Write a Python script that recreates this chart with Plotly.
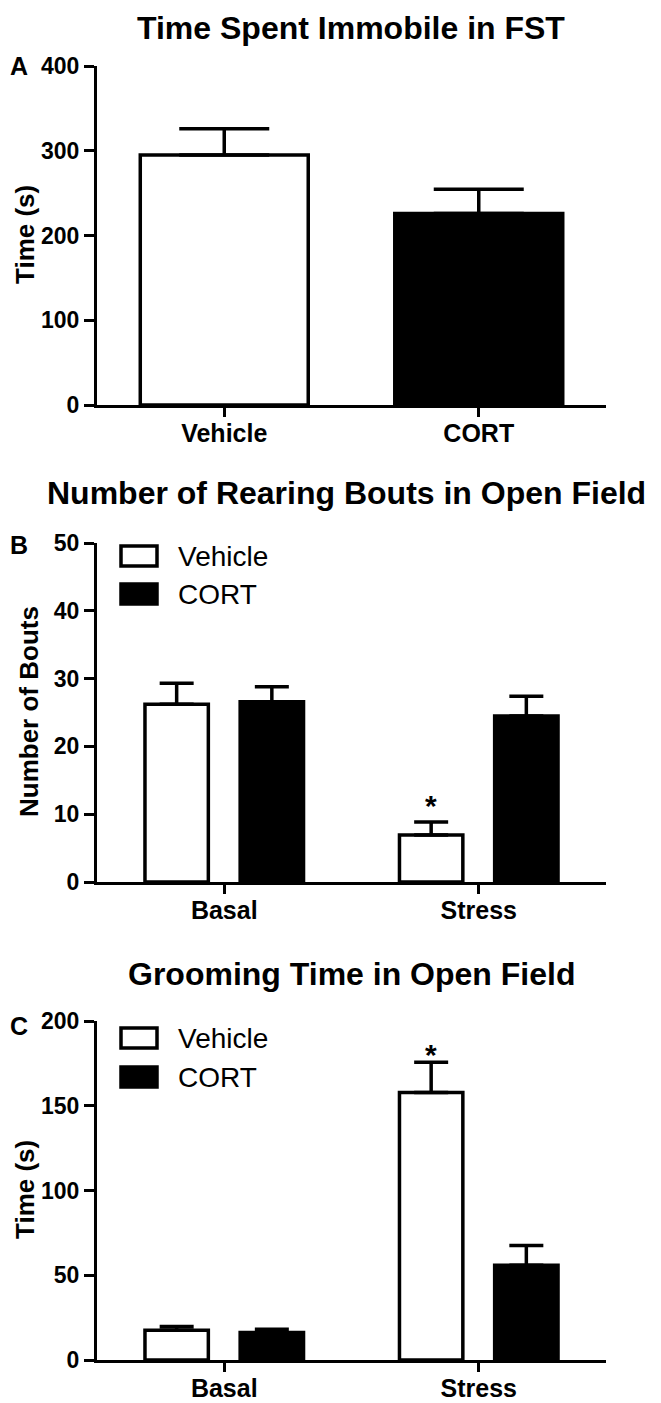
import plotly.graph_objects as go

# The html page body has an 8 px margin; the figure is sized so that
# figure + margin fills the 661x1403 window exactly.
PAGE_W, PAGE_H = 661, 1403
OFF = 8
W, H = PAGE_W - OFF, PAGE_H - OFF

# ---------------- data ----------------
# Panel A: Time spent immobile in FST
fst_groups = ["Vehicle", "CORT"]
fst_mean = [295, 226]
fst_sem = [31, 28.5]

# Panel B: Number of rearing bouts in open field
conditions = ["Basal", "Stress"]
rear_vehicle_mean = [26.2, 6.95]
rear_vehicle_sem = [3.1, 1.9]
rear_cort_mean = [26.6, 24.5]
rear_cort_sem = [2.2, 2.9]

# Panel C: Grooming time in open field
groom_vehicle_mean = [17.6, 157.8]
groom_vehicle_sem = [2.1, 17.9]
groom_cort_mean = [16.2, 55.9]
groom_cort_sem = [2.0, 11.7]

panel_titles = ["Time Spent Immobile in FST",
                "Number of Rearing Bouts in Open Field",
                "Grooming Time in Open Field"]
panel_letters = ["A", "B", "C"]
y_titles = ["Time (s)", "Number of Bouts", "Time (s)"]
yticks_a = [0, 100, 200, 300, 400]
yticks_b = [0, 10, 20, 30, 40, 50]
yticks_c = [0, 50, 100, 150, 200]
legend_labels = ["Vehicle", "CORT"]
# ---------------------------------------

FONT = "Liberation Sans, Arial, sans-serif"
LW = 3.5


def px(x):
    return (x - OFF) / W


def py(y):
    return 1 - (y - OFF) / H


fig = go.Figure()

# Panel A bars
colors = {"Vehicle": "white", "CORT": "black"}
for g, m, s in zip(fst_groups, fst_mean, fst_sem):
    fig.add_trace(go.Bar(
        x=[g], y=[m], width=0.66, offset=-0.33,
        marker=dict(color=colors[g], line=dict(color="black", width=LW)),
        error_y=dict(type="data", symmetric=False, array=[s], arrayminus=[0],
                     color="black", thickness=LW, width=45),
        xaxis="x", yaxis="y", showlegend=False, name=g))

BW = 0.249
OFFV = -0.187 - BW / 2
OFFC = 0.187 - BW / 2


def grouped(vm, vs, cm, cs, xa, ya):
    fig.add_trace(go.Bar(
        x=conditions, y=vm, width=BW, offset=OFFV,
        marker=dict(color="white", line=dict(color="black", width=LW)),
        error_y=dict(type="data", symmetric=False, array=vs, arrayminus=[0] * len(vs),
                     color="black", thickness=LW, width=17),
        xaxis=xa, yaxis=ya, showlegend=False, name="Vehicle"))
    fig.add_trace(go.Bar(
        x=conditions, y=cm, width=BW, offset=OFFC,
        marker=dict(color="black", line=dict(color="black", width=LW)),
        error_y=dict(type="data", symmetric=False, array=cs, arrayminus=[0] * len(cs),
                     color="black", thickness=LW, width=17),
        xaxis=xa, yaxis=ya, showlegend=False, name="CORT"))


grouped(rear_vehicle_mean, rear_vehicle_sem, rear_cort_mean, rear_cort_sem, "x2", "y2")
grouped(groom_vehicle_mean, groom_vehicle_sem, groom_cort_mean, groom_cort_sem, "x3", "y3")

xdom = [px(97), px(606)]
ydoms = [[py(405), py(66)], [py(882), py(543)], [py(1360), py(1021)]]
yranges = [[0, 400], [0, 50], [0, 200]]
ytickss = [yticks_a, yticks_b, yticks_c]
xcats = [fst_groups, conditions, conditions]

layout = dict(
    width=W, height=H, margin=dict(l=0, r=0, t=0, b=0, pad=0),
    paper_bgcolor="white", plot_bgcolor="white",
    barmode="overlay", font=dict(family=FONT, color="black"),
)
for i in range(3):
    sx = "" if i == 0 else str(i + 1)
    layout["xaxis" + sx] = dict(
        domain=xdom, anchor="y" + sx, type="category",
        categoryorder="array", categoryarray=xcats[i], range=[-0.5, 1.5],
        showline=True, linewidth=3, linecolor="black", ticks="outside",
        ticklen=9, tickwidth=3, tickcolor="black", showgrid=False, zeroline=False,
        ticklabelstandoff=-5,
        tickfont=dict(family=FONT, size=25, color="black", weight="bold"),
        automargin=False, fixedrange=True)
    layout["yaxis" + sx] = dict(
        domain=ydoms[i], anchor="x" + sx, range=yranges[i], tickvals=ytickss[i],
        showline=True, linewidth=3, linecolor="black", ticks="outside",
        ticklen=10, tickwidth=3, tickcolor="black", showgrid=False, zeroline=False,
        tickfont=dict(family=FONT, size=23, color="black", weight="bold"),
        automargin=False, fixedrange=True)
fig.update_layout(**layout)

ann = []
title_pos = [(351, 28), (346, 493), (351, 974)]
for t, (x, y) in zip(panel_titles, title_pos):
    ann.append(dict(text=t, x=px(x), y=py(y), xref="paper", yref="paper",
                    xanchor="center", yanchor="middle", showarrow=False,
                    font=dict(family=FONT, size=32, color="black", weight="bold")))
letter_pos = [(19, 66), (19, 545), (19, 1026)]
for t, (x, y) in zip(panel_letters, letter_pos):
    ann.append(dict(text=t, x=px(x), y=py(y), xref="paper", yref="paper",
                    xanchor="center", yanchor="middle", showarrow=False,
                    font=dict(family=FONT, size=25, color="black", weight="bold")))
ytitle_pos = [(25, 235), (29, 712), (25, 1190)]
for t, (x, y) in zip(y_titles, ytitle_pos):
    ann.append(dict(text=t, x=px(x), y=py(y), xref="paper", yref="paper",
                    xanchor="center", yanchor="middle", showarrow=False, textangle=-90,
                    font=dict(family=FONT, size=26, color="black", weight="bold")))

# significance asterisks (Stress / Vehicle)
ann.append(dict(text="*", x=1 - 0.187, y=12.1, xref="x2", yref="y2",
                xanchor="center", yanchor="middle", showarrow=False, yshift=-6,
                font=dict(family=FONT, size=30, color="black", weight="bold")))
ann.append(dict(text="*", x=1 - 0.187, y=184, xref="x3", yref="y3",
                xanchor="center", yanchor="middle", showarrow=False, yshift=-6,
                font=dict(family=FONT, size=30, color="black", weight="bold")))

# legends for panels B and C (drawn as swatches + text)
shapes = []
for rows in [(556, 594), (1038, 1077)]:
    for lab, yc, fill in zip(legend_labels, rows, ["white", "black"]):
        shapes.append(dict(type="rect", xref="paper", yref="paper",
                           x0=px(121), x1=px(157), y0=py(yc - 10), y1=py(yc + 10),
                           fillcolor=fill, line=dict(color="black", width=LW)))
        ann.append(dict(text=lab, x=px(176), y=py(yc), xref="paper", yref="paper",
                        xanchor="left", yanchor="middle", showarrow=False,
                        font=dict(family=FONT, size=28, color="black")))

fig.update_layout(annotations=ann, shapes=shapes)
fig.write_html("out.html")
